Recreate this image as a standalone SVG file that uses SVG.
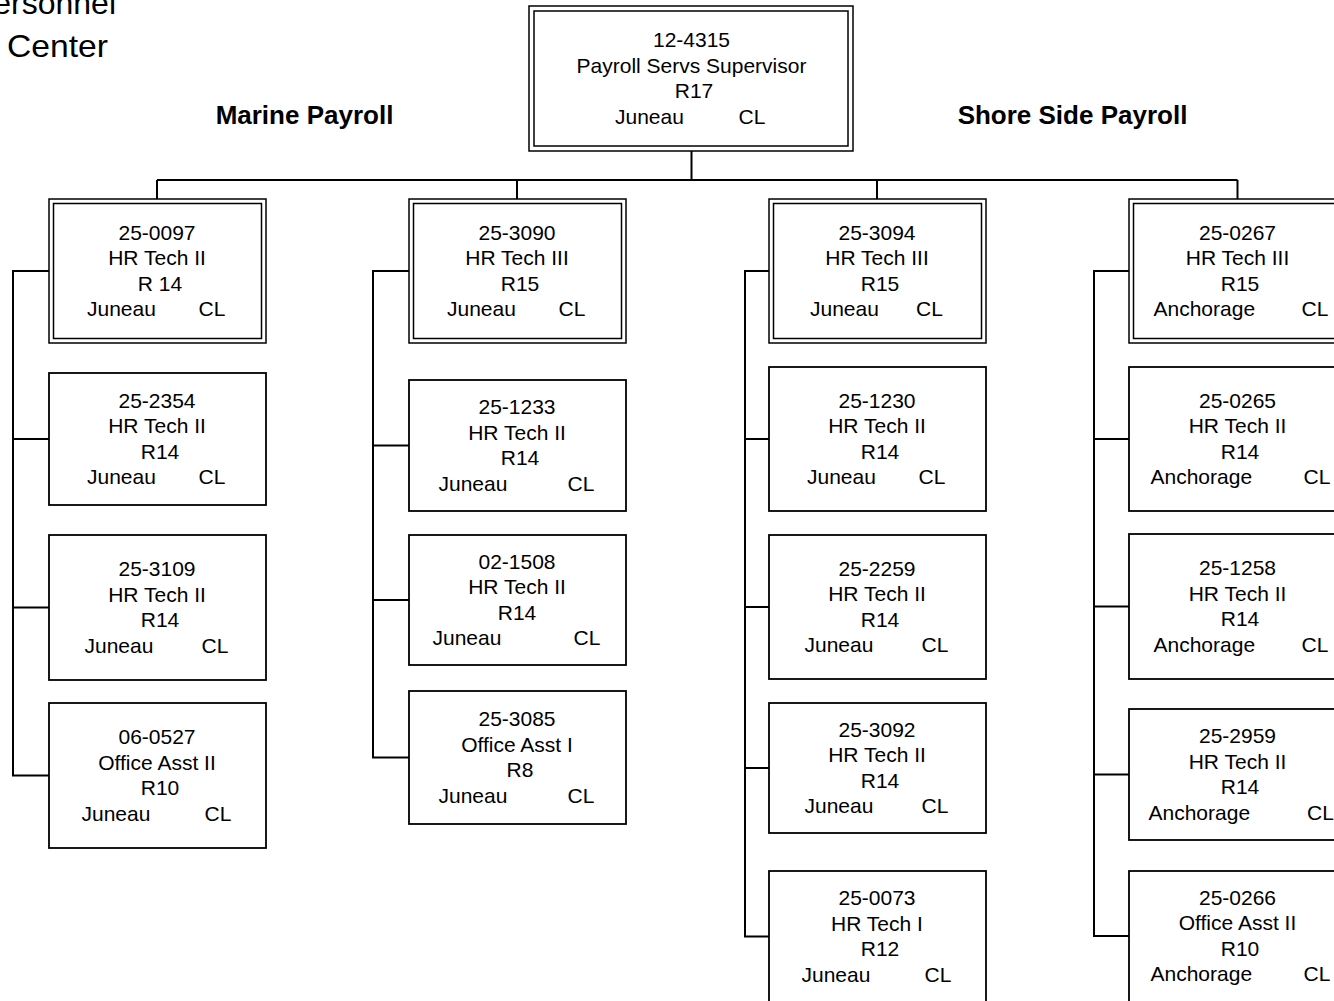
<svg xmlns="http://www.w3.org/2000/svg" width="1334" height="1001" viewBox="0 0 1334 1001">
<style>
.bx{fill:#fff;stroke:#000;stroke-width:1.8}
.bd{fill:none;stroke:#000;stroke-width:1.5}
.t{font-family:"Liberation Sans",Arial,Helvetica,sans-serif;font-size:21px;fill:#000}
.m{text-anchor:middle}
.h{font-family:"Liberation Sans",Arial,Helvetica,sans-serif;font-size:26px;font-weight:bold;fill:#000;text-anchor:middle}
.big{font-family:"Liberation Sans",Arial,Helvetica,sans-serif;font-size:32px;fill:#000}
.c{fill:none;stroke:#000;stroke-width:2}
</style>
<rect width="1334" height="1001" fill="#fff"/>
<g id="title">
<text class="big" x="116" y="13.5" text-anchor="end">ersonnel</text>
<text class="big" x="7" y="56.5" textLength="101" lengthAdjust="spacingAndGlyphs">Center</text>
</g>
<g id="headings">
<text class="h" x="304.5" y="123.5">Marine Payroll</text>
<text class="h" x="1072.5" y="123.5">Shore Side Payroll</text>
</g>
<g id="connectors">
<path class="c" d="M691.5 151 V180 M157 180 H1237.5 M157 180 V199 M517 180 V199 M877 180 V199 M1237.5 180 V199"/>
<path class="c" d="M49 271 H13 V775.5 H49 M13 439 H49 M13 607.5 H49"/>
<path class="c" d="M409 271 H373 V757.5 H409 M373 445.5 H409 M373 600 H409"/>
<path class="c" d="M769 271 H745 V936.5 H769 M745 439 H769 M745 607 H769 M745 768 H769"/>
<path class="c" d="M1129 271 H1094 V936 H1129 M1094 439 H1129 M1094 606.5 H1129 M1094 774.5 H1129"/>
</g>
<g id="n-12-4315">
<rect class="bd" x="529" y="6" width="324" height="145" fill="#fff"/>
<rect class="bd" x="534" y="11" width="314" height="135"/>
<text class="t m" x="691.5" y="46.5">12-4315</text>
<text class="t m" x="691.5" y="72.5">Payroll Servs Supervisor</text>
<text class="t m" x="694" y="98">R17</text>
<text class="t" x="615" y="123.5">Juneau</text>
<text class="t" x="738.5" y="123.5">CL</text>
</g>
<g id="n-25-0097">
<rect class="bd" x="49" y="199" width="217" height="144" fill="#fff"/>
<rect class="bd" x="53.5" y="203.5" width="208" height="135"/>
<text class="t m" x="157" y="239.5">25-0097</text>
<text class="t m" x="157" y="265">HR Tech II</text>
<text class="t m" x="160" y="290.5">R 14</text>
<text class="t" x="87" y="316">Juneau</text>
<text class="t" x="198.5" y="316">CL</text>
</g>
<g id="n-25-2354">
<rect class="bx" x="49" y="373" width="217" height="132"/>
<text class="t m" x="157" y="407.5">25-2354</text>
<text class="t m" x="157" y="433">HR Tech II</text>
<text class="t m" x="160" y="458.5">R14</text>
<text class="t" x="87" y="484">Juneau</text>
<text class="t" x="198.5" y="484">CL</text>
</g>
<g id="n-25-3109">
<rect class="bx" x="49" y="535" width="217" height="145"/>
<text class="t m" x="157" y="576">25-3109</text>
<text class="t m" x="157" y="601.5">HR Tech II</text>
<text class="t m" x="160" y="627">R14</text>
<text class="t" x="84.5" y="652.5">Juneau</text>
<text class="t" x="201.5" y="652.5">CL</text>
</g>
<g id="n-06-0527">
<rect class="bx" x="49" y="703" width="217" height="145"/>
<text class="t m" x="157" y="744">06-0527</text>
<text class="t m" x="157" y="769.5">Office Asst II</text>
<text class="t m" x="160" y="795">R10</text>
<text class="t" x="81.5" y="820.5">Juneau</text>
<text class="t" x="204.5" y="820.5">CL</text>
</g>
<g id="n-25-3090">
<rect class="bd" x="409" y="199" width="217" height="144" fill="#fff"/>
<rect class="bd" x="413.5" y="203.5" width="208" height="135"/>
<text class="t m" x="517" y="239.5">25-3090</text>
<text class="t m" x="517" y="265">HR Tech III</text>
<text class="t m" x="520" y="290.5">R15</text>
<text class="t" x="447" y="316">Juneau</text>
<text class="t" x="558.5" y="316">CL</text>
</g>
<g id="n-25-1233">
<rect class="bx" x="409" y="380" width="217" height="131"/>
<text class="t m" x="517" y="414">25-1233</text>
<text class="t m" x="517" y="439.5">HR Tech II</text>
<text class="t m" x="520" y="465">R14</text>
<text class="t" x="438.5" y="490.5">Juneau</text>
<text class="t" x="567.5" y="490.5">CL</text>
</g>
<g id="n-02-1508">
<rect class="bx" x="409" y="535" width="217" height="130"/>
<text class="t m" x="517" y="568.5">02-1508</text>
<text class="t m" x="517" y="594">HR Tech II</text>
<text class="t m" x="517" y="619.5">R14</text>
<text class="t" x="432.5" y="645">Juneau</text>
<text class="t" x="573.5" y="645">CL</text>
</g>
<g id="n-25-3085">
<rect class="bx" x="409" y="691" width="217" height="133"/>
<text class="t m" x="517" y="726">25-3085</text>
<text class="t m" x="517" y="751.5">Office Asst I</text>
<text class="t m" x="520" y="777">R8</text>
<text class="t" x="438.5" y="802.5">Juneau</text>
<text class="t" x="567.5" y="802.5">CL</text>
</g>
<g id="n-25-3094">
<rect class="bd" x="769" y="199" width="217" height="144" fill="#fff"/>
<rect class="bd" x="773.5" y="203.5" width="208" height="135"/>
<text class="t m" x="877" y="239.5">25-3094</text>
<text class="t m" x="877" y="265">HR Tech III</text>
<text class="t m" x="880" y="290.5">R15</text>
<text class="t" x="810" y="316">Juneau</text>
<text class="t" x="916" y="316">CL</text>
</g>
<g id="n-25-1230">
<rect class="bx" x="769" y="367" width="217" height="144"/>
<text class="t m" x="877" y="407.5">25-1230</text>
<text class="t m" x="877" y="433">HR Tech II</text>
<text class="t m" x="880" y="458.5">R14</text>
<text class="t" x="807" y="484">Juneau</text>
<text class="t" x="918.5" y="484">CL</text>
</g>
<g id="n-25-2259">
<rect class="bx" x="769" y="535" width="217" height="144"/>
<text class="t m" x="877" y="575.5">25-2259</text>
<text class="t m" x="877" y="601">HR Tech II</text>
<text class="t m" x="880" y="626.5">R14</text>
<text class="t" x="804.5" y="652">Juneau</text>
<text class="t" x="921.5" y="652">CL</text>
</g>
<g id="n-25-3092">
<rect class="bx" x="769" y="703" width="217" height="130"/>
<text class="t m" x="877" y="736.5">25-3092</text>
<text class="t m" x="877" y="762">HR Tech II</text>
<text class="t m" x="880" y="787.5">R14</text>
<text class="t" x="804.5" y="813">Juneau</text>
<text class="t" x="921.5" y="813">CL</text>
</g>
<g id="n-25-0073">
<rect class="bx" x="769" y="871" width="217" height="140"/>
<text class="t m" x="877" y="905">25-0073</text>
<text class="t m" x="877" y="930.5">HR Tech I</text>
<text class="t m" x="880" y="956">R12</text>
<text class="t" x="801.5" y="981.5">Juneau</text>
<text class="t" x="924.5" y="981.5">CL</text>
</g>
<g id="n-25-0267">
<rect class="bd" x="1129" y="199" width="217" height="144" fill="#fff"/>
<rect class="bd" x="1133.5" y="203.5" width="208" height="135"/>
<text class="t m" x="1237.5" y="239.5">25-0267</text>
<text class="t m" x="1237.5" y="265">HR Tech III</text>
<text class="t m" x="1240" y="290.5">R15</text>
<text class="t" x="1153.5" y="316">Anchorage</text>
<text class="t" x="1301.5" y="316">CL</text>
</g>
<g id="n-25-0265">
<rect class="bx" x="1129" y="367" width="217" height="144"/>
<text class="t m" x="1237.5" y="407.5">25-0265</text>
<text class="t m" x="1237.5" y="433">HR Tech II</text>
<text class="t m" x="1240" y="458.5">R14</text>
<text class="t" x="1150.5" y="484">Anchorage</text>
<text class="t" x="1303.5" y="484">CL</text>
</g>
<g id="n-25-1258">
<rect class="bx" x="1129" y="534" width="217" height="145"/>
<text class="t m" x="1237.5" y="575">25-1258</text>
<text class="t m" x="1237.5" y="600.5">HR Tech II</text>
<text class="t m" x="1240" y="626">R14</text>
<text class="t" x="1153.5" y="651.5">Anchorage</text>
<text class="t" x="1301.5" y="651.5">CL</text>
</g>
<g id="n-25-2959">
<rect class="bx" x="1129" y="709" width="217" height="131"/>
<text class="t m" x="1237.5" y="743">25-2959</text>
<text class="t m" x="1237.5" y="768.5">HR Tech II</text>
<text class="t m" x="1240" y="794">R14</text>
<text class="t" x="1148.5" y="819.5">Anchorage</text>
<text class="t" x="1307" y="819.5">CL</text>
</g>
<g id="n-25-0266">
<rect class="bx" x="1129" y="871" width="217" height="140"/>
<text class="t m" x="1237.5" y="904.5">25-0266</text>
<text class="t m" x="1237.5" y="930">Office Asst II</text>
<text class="t m" x="1240" y="955.5">R10</text>
<text class="t" x="1150.5" y="981">Anchorage</text>
<text class="t" x="1303.5" y="981">CL</text>
</g>
</svg>
